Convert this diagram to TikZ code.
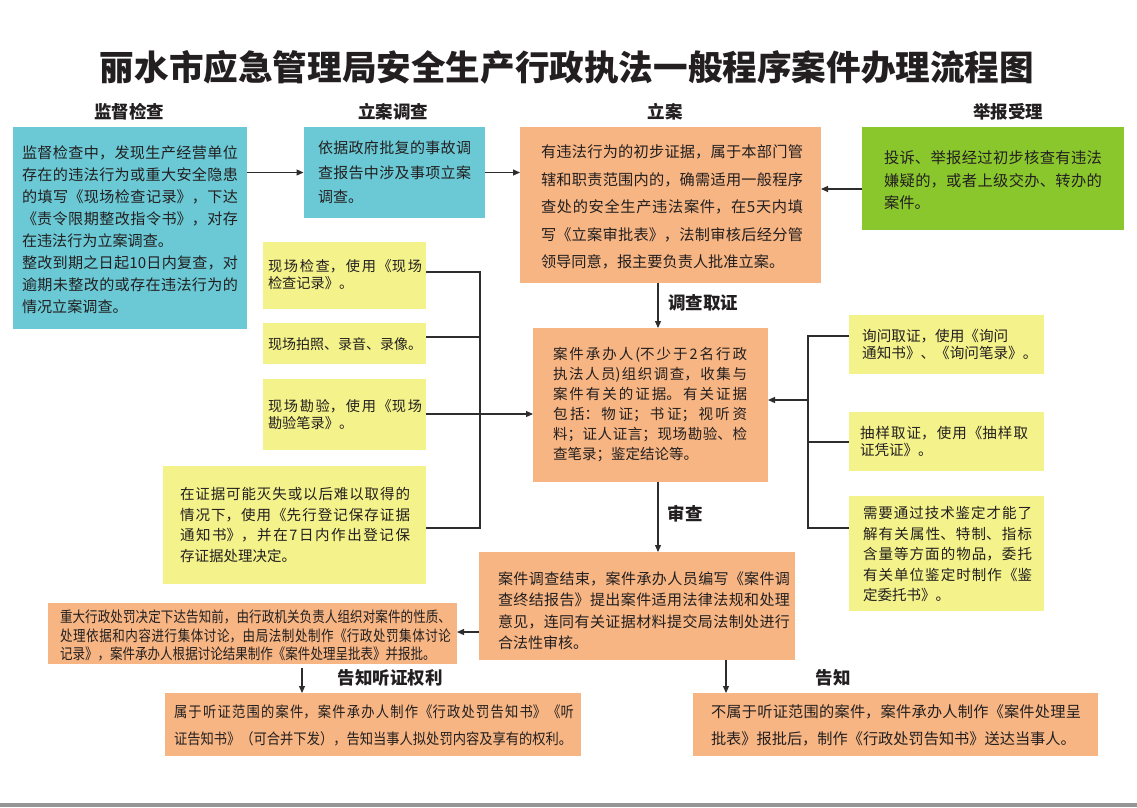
\documentclass[tikz,border=0pt]{standalone}
\usepackage{fontspec}
\setmainfont{Noto Sans CJK SC}
\newfontfamily\cjkc{Noto Sans CJK SC}[FakeStretch=0.835]
\newfontfamily\cjkd{Noto Sans CJK SC}[FakeStretch=0.885]
\usetikzlibrary{arrows.meta}
\XeTeXlinebreaklocale "zh"
\XeTeXlinebreakskip=0pt plus 1fil
\newcommand\fsz[2]{\fontsize{#1pt}{#2pt}\selectfont}
\newcommand\pe{\hspace*{0pt plus 1filll}}
\definecolor{cyanc}{RGB}{106,201,213}
\definecolor{orangec}{RGB}{246,181,131}
\definecolor{yellowc}{RGB}{244,242,138}
\definecolor{greenc}{RGB}{138,199,44}
\definecolor{txtc}{RGB}{35,31,32}
\definecolor{linec}{RGB}{45,45,45}
\definecolor{barc}{RGB}{150,150,150}
\tikzset{
  cbox/.style={fill=cyanc, inner sep=0pt, outer sep=0pt},
  obox/.style={fill=orangec, inner sep=0pt, outer sep=0pt},
  ybox/.style={fill=yellowc, inner sep=0pt, outer sep=0pt},
  gbox/.style={fill=greenc, inner sep=0pt, outer sep=0pt},
  jt/.style={inner sep=0pt, align=justify, text=txtc},
  lt/.style={inner sep=0pt, align=left, text=txtc},
  head/.style={inner sep=0pt, text=txtc, font=\fsz{17.5}{20}\bfseries},
  arr/.style={draw=linec, line width=1.1pt, -{Triangle[length=7pt,width=6pt]}},
  conn/.style={draw=linec, line width=1.1pt},
}
\begin{document}
\begin{tikzpicture}[x=1pt,y=-1pt]
\useasboundingbox (0,0) rectangle (1137,807);
\fill[white] (0,0) rectangle (1137,807);
\fill[barc] (0,803) rectangle (1137,806.5);

% title and headings
\node[inner sep=0pt, text=txtc, font=\fsz{34.6}{40}\bfseries] (title) at (567,67) {丽水市应急管理局安全生产行政执法一般程序案件办理流程图};
\node[head] (h1) at (129,112) {监督检查};
\node[head] (h2) at (393,112) {立案调查};
\node[head] (h3) at (665,112) {立案};
\node[head] (h4) at (1008,112) {举报受理};

% boxes
\node[cbox, minimum width=234pt, minimum height=202pt] (jd) at (130,228) {};
\node[jt, text width=216pt, font=\fsz{15.1}{22}] (jdt) at (130,229.5) {监督检查中，发现生产经营单位\linebreak 存在的违法行为或重大安全隐患\linebreak 的填写《现场检查记录》，下达\linebreak 《责令限期整改指令书》，对存\linebreak 在违法行为立案调查。\pe\par 整改到期之日起10日内复查，对\linebreak 逾期未整改的或存在违法行为的\linebreak 情况立案调查。\pe};

\node[cbox, minimum width=181pt, minimum height=91pt] (ladc) at (394,172.5) {};
\node[jt, text width=153pt, font=\fsz{15}{24.5}] (ladct) at (394.5,172.5) {依据政府批复的事故调\linebreak 查报告中涉及事项立案\linebreak 调查。\pe};

\node[obox, minimum width=301pt, minimum height=156pt] (la) at (670.5,205) {};
\node[jt, text width=262pt, font=\fsz{15.2}{27.5}] (lat) at (672,207) {有违法行为的初步证据，属于本部门管\linebreak 辖和职责范围内的，确需适用一般程序\linebreak 查处的安全生产违法案件，在5天内填\linebreak 写《立案审批表》，法制审核后经分管\linebreak 领导同意，报主要负责人批准立案。\pe};

\node[gbox, minimum width=262pt, minimum height=103pt] (jb) at (993,178.5) {};
\node[jt, text width=218pt, font=\fsz{15.3}{22.5}] (jbt) at (993,180.5) {投诉、举报经过初步核查有违法\linebreak 嫌疑的，或者上级交办、转办的\linebreak 案件。\pe};

\node[ybox, minimum width=163pt, minimum height=67pt] (y1) at (344.5,275.5) {};
\node[jt, text width=154pt, font=\fsz{14.2}{17}] (y1t) at (345,274.5) {现场检查，使用《现场\linebreak 检查记录》。\pe};

\node[ybox, minimum width=163pt, minimum height=41pt] (y2) at (344.5,343.5) {};
\node[lt, font=\fsz{14}{17}] (y2t) at (345,344) {现场拍照、录音、录像。};

\node[ybox, minimum width=163pt, minimum height=71pt] (y3) at (344.5,414.5) {};
\node[jt, text width=154pt, font=\fsz{14.2}{17}] (y3t) at (345,414.5) {现场勘验，使用《现场\linebreak 勘验笔录》。\pe};

\node[ybox, minimum width=263pt, minimum height=118pt] (y4) at (294.5,525) {};
\node[jt, text width=230pt, font=\fsz{14.5}{20.7}] (y4t) at (295,525) {在证据可能灭失或以后难以取得的\linebreak 情况下，使用《先行登记保存证据\linebreak 通知书》，并在7日内作出登记保\linebreak 存证据处理决定。\pe};

\node[obox, minimum width=235pt, minimum height=154pt] (ctr) at (650.5,405) {};
\node[jt, text width=194pt, font=\fsz{14.5}{20}] (ctrt) at (650,405) {案件承办人(不少于2名行政\linebreak 执法人员)组织调查，收集与\linebreak 案件有关的证据。有关证据\linebreak 包括：物证；书证；视听资\linebreak 料；证人证言；现场勘验、检\linebreak 查笔录；鉴定结论等。\pe};

\node[ybox, minimum width=195pt, minimum height=59pt] (w1) at (946.5,344.5) {};
\node[lt, anchor=west, font=\fsz{14.6}{17}] (w1t) at (862,344.5) {询问取证，使用《询问\\通知书》、《询问笔录》。};

\node[ybox, minimum width=195pt, minimum height=59pt] (w2) at (946.5,441.5) {};
\node[jt, text width=168pt, font=\fsz{14.5}{17}] (w2t) at (944,441.5) {抽样取证，使用《抽样取\linebreak 证凭证》。\pe};

\node[ybox, minimum width=195pt, minimum height=115pt] (w3) at (946.5,553.5) {};
\node[jt, text width=169pt, font=\fsz{14.5}{20.5}] (w3t) at (947.5,554) {需要通过技术鉴定才能了\linebreak 解有关属性、特制、指标\linebreak 含量等方面的物品，委托\linebreak 有关单位鉴定时制作《鉴\linebreak 定委托书》。\pe};

\node[obox, minimum width=316pt, minimum height=108pt] (rv) at (637,606) {};
\node[jt, text width=292pt, font=\fsz{15}{21.5}] (rvt) at (644,610.5) {案件调查结束，案件承办人员编写《案件调\linebreak 查终结报告》提出案件适用法律法规和处理\linebreak 意见，连同有关证据材料提交局法制处进行\linebreak 合法性审核。\pe};

\node[obox, minimum width=409pt, minimum height=61pt] (zd) at (252.5,633.5) {};
\node[jt, text width=391pt, font=\cjkc\fsz{15}{18.5}] (zdt) at (255.5,635.5) {重大行政处罚决定下达告知前，由行政机关负责人组织对案件的性质、\linebreak 处理依据和内容进行集体讨论，由局法制处制作《行政处罚集体讨论\linebreak 记录》，案件承办人根据讨论结果制作《案件处理呈批表》并报批。\pe};

\node[obox, minimum width=416pt, minimum height=63pt] (tz) at (373,724.5) {};
\node[jt, text width=400pt, font=\cjkd\fsz{15}{27}] (tzt) at (374,725.5) {属于听证范围的案件，案件承办人制作《行政处罚告知书》《听\linebreak 证告知书》（可合并下发），告知当事人拟处罚内容及享有的权利。\pe};

\node[obox, minimum width=405pt, minimum height=63pt] (gz) at (895.5,724.5) {};
\node[jt, text width=370pt, font=\fsz{15.2}{27}] (gzt) at (896,725.5) {不属于听证范围的案件，案件承办人制作《案件处理呈\linebreak 批表》报批后，制作《行政处罚告知书》送达当事人。\pe};

% labels
\node[head] (l1) at (703,303) {调查取证};
\node[head] (l2) at (685,514) {审查};
\node[head] (l3) at (390,678) {告知听证权利};
\node[head] (l4) at (833,678) {告知};

% helper coordinates
\coordinate (ax) at (658,0);
\coordinate (gy) at (0,189);
\coordinate (lb1) at (480,272);
\coordinate (lb2) at (480,337);
\coordinate (lb3) at (480,414);
\coordinate (lb4) at (480,528);
\coordinate (rb1) at (808,336);
\coordinate (rb2) at (808,442);
\coordinate (rb3) at (808,528);
\coordinate (rj) at (808,400);
\coordinate (by) at (0,632);
\coordinate (bx1) at (302,0);
\coordinate (bx2) at (726,0);

% connectors
\draw[arr] (jd.east |- ladc.west) -- (ladc.west);
\draw[arr] (ladc.east) -- (la.west |- ladc.east);
\draw[arr] (jb.west |- gy) -- (la.east |- gy);
\draw[arr] (la.south -| ax) -- (ctr.north -| ax);
\draw[arr] (ctr.south -| ax) -- (rv.north -| ax);

\draw[conn] (y1.east |- lb1) -- (lb1) -- (lb4) -- (y4.east |- lb4);
\draw[conn] (y2.east |- lb2) -- (lb2);
\draw[arr] (y3.east |- lb3) -- (ctr.west |- lb3);

\draw[conn] (w1.west |- rb1) -- (rb1) -- (rb3) -- (w3.west |- rb3);
\draw[conn] (w2.west |- rb2) -- (rb2);
\draw[arr] (rj) -- (ctr.east |- rj);

\draw[arr] (rv.west |- by) -- (zd.east |- by);
\draw[arr, shorten <=4pt] (zd.south -| bx1) -- (tz.north -| bx1);
\draw[arr] (rv.south -| bx2) -- (gz.north -| bx2);
\end{tikzpicture}
\end{document}
